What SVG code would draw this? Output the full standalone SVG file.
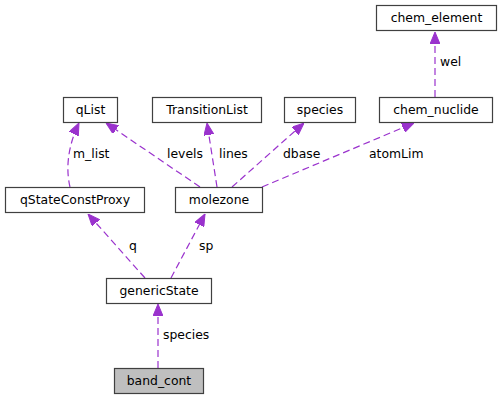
<svg xmlns="http://www.w3.org/2000/svg" width="500" height="400" viewBox="0 0 500 400">
<style>
.n rect{fill:#fff;stroke:#404040;stroke-width:1.2}
.n text,.lbl{font-family:"DejaVu Sans",sans-serif;font-size:12.4px;fill:#000}
.n text{text-anchor:middle}
.e{fill:none;stroke:#9a32cd;stroke-width:1.2;stroke-dasharray:7,4}
</style>
<defs>
<marker id="ah" markerUnits="userSpaceOnUse" viewBox="0 0 12 10" refX="12" refY="5" markerWidth="12" markerHeight="10" orient="auto">
<path d="M0,0 L12,5 L0,10 z" fill="#9a32cd" stroke="#9a32cd"/>
</marker>
</defs>
<rect width="500" height="400" fill="#fff"/>
<g id="edges">
<path class="e" d="M158,368 L158,304" marker-end="url(#ah)"/>
<path class="e" d="M145,278 L88,214" marker-end="url(#ah)"/>
<path class="e" d="M171,278 L205,214" marker-end="url(#ah)"/>
<path class="e" d="M70,187 C66,170 67,148 79,123" marker-end="url(#ah)"/>
<path class="e" d="M200,187 L106,123" marker-end="url(#ah)"/>
<path class="e" d="M217,187 L207,123" marker-end="url(#ah)"/>
<path class="e" d="M232,187 L304,123" marker-end="url(#ah)"/>
<path class="e" d="M262,187 L414,123" marker-end="url(#ah)"/>
<path class="e" d="M435,97 L435,32" marker-end="url(#ah)"/>
<text class="lbl" x="163" y="339">species</text>
<text class="lbl" x="129" y="250">q</text>
<text class="lbl" x="199" y="250">sp</text>
<text class="lbl" x="73" y="158">m_list</text>
<text class="lbl" x="167" y="158">levels</text>
<text class="lbl" x="219" y="158">lines</text>
<text class="lbl" x="283" y="158">dbase</text>
<text class="lbl" x="369" y="158">atomLim</text>
<text class="lbl" x="440" y="66">wel</text>
</g>
<g id="band_cont" class="n"><rect x="114.5" y="368.5" width="89" height="25" style="fill:#bfbfbf"/><text x="159" y="385">band_cont</text></g>
<g id="genericState" class="n"><rect x="106.5" y="278.5" width="105" height="25"/><text x="159" y="295">genericState</text></g>
<g id="qStateConstProxy" class="n"><rect x="5.5" y="187.5" width="139" height="25"/><text x="75" y="204">qStateConstProxy</text></g>
<g id="molezone" class="n"><rect x="175.5" y="187.5" width="87" height="25"/><text x="219" y="204">molezone</text></g>
<g id="qList" class="n"><rect x="63.5" y="97.5" width="54" height="25"/><text x="90.5" y="114">qList</text></g>
<g id="TransitionList" class="n"><rect x="152.5" y="97.5" width="109" height="25"/><text x="207" y="114">TransitionList</text></g>
<g id="species" class="n"><rect x="284.5" y="97.5" width="71" height="25"/><text x="320" y="114">species</text></g>
<g id="chem_nuclide" class="n"><rect x="379.5" y="97.5" width="113" height="25"/><text x="436" y="114">chem_nuclide</text></g>
<g id="chem_element" class="n"><rect x="376.5" y="5.5" width="120" height="25"/><text x="436.5" y="22">chem_element</text></g>
</svg>
